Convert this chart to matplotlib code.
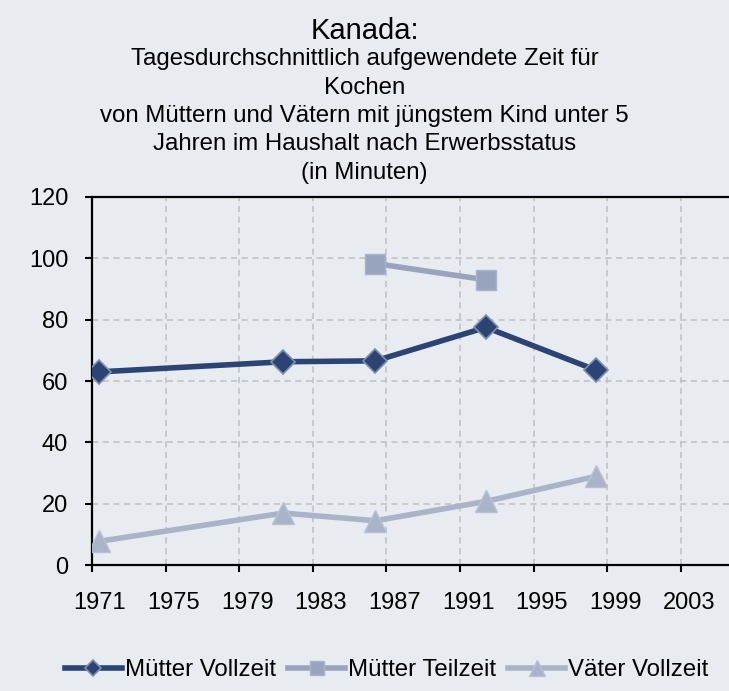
import matplotlib.pyplot as plt
import matplotlib.transforms as mtransforms
from matplotlib.ticker import MultipleLocator

plt.rcParams['font.family'] = ['Liberation Sans', 'DejaVu Sans']

# Daten (Minuten pro Tag)
jahre = [1971.4, 1981.4, 1986.4, 1992.4, 1998.4]
muetter_vollzeit = [63.0, 66.3, 66.6, 77.5, 63.5]
jahre_teilzeit = [1986.4, 1992.4]
muetter_teilzeit = [98.3, 93.0]
vaeter_vollzeit = [7.8, 17.0, 14.5, 20.8, 29.0]

xticks = [1971, 1975, 1979, 1983, 1987, 1991, 1995, 1999, 2003]

titel = "Kanada:"
untertitel = [
    "Tagesdurchschnittlich aufgewendete Zeit für",
    "Kochen",
    "von Müttern und Vätern mit jüngstem Kind unter 5",
    "Jahren im Haushalt nach Erwerbsstatus",
    "(in Minuten)",
]

bg = "#E8EBF0"
fig = plt.figure(figsize=(7.29, 6.91), dpi=100, facecolor=bg)
ax = fig.add_axes([0.126, 0.182, 0.874, 0.533], facecolor=bg)

ax.plot(jahre, muetter_vollzeit, color="#2B4474", lw=4, marker="D", ms=12,
        mfc="#2B4474", mec="#7F8FB0", mew=1.2, label="Mütter Vollzeit", zorder=3)
ax.plot(jahre_teilzeit, muetter_teilzeit, color="#98A4BE", lw=4, marker="s", ms=15,
        mfc="#98A4BE", mec="#A9B4CA", mew=1, label="Mütter Teilzeit", zorder=3)
ax.plot(jahre, vaeter_vollzeit, color="#A9B4C8", lw=4, marker="^", ms=16,
        mfc="#A9B4C8", mec="#B8C1D3", mew=1, label="Väter Vollzeit", zorder=3)

ax.set_xlim(1971, 2005.6)
ax.set_ylim(0, 120)
ax.set_xticks(xticks)
ax.yaxis.set_major_locator(MultipleLocator(20))
ax.grid(True, color="#BFBFBF", ls=(0, (4, 3)), lw=1.1)
ax.set_axisbelow(True)
ax.tick_params(axis="both", labelsize=17, length=5, width=1.5, direction="out")
ax.tick_params(axis="x", pad=14)
ax.tick_params(axis="y", pad=12)
for s in ["left", "bottom", "top"]:
    ax.spines[s].set_linewidth(1.6)
ax.spines["right"].set_visible(False)

# Jahreszahlen stehen im Original etwas rechts vom Strich
versatz = mtransforms.ScaledTranslation(8 / 100, 0, fig.dpi_scale_trans)
for lbl in ax.get_xticklabels():
    lbl.set_transform(lbl.get_transform() + versatz)

fig.text(0.5, 1 - 31 / 691, titel, ha="center", va="center", fontsize=21)
for i, zeile in enumerate(untertitel):
    y = 59 + i * 28.5
    fig.text(0.5, 1 - y / 691, zeile, ha="center", va="center", fontsize=17.3)

fig.legend(loc="center", bbox_to_anchor=(0.53, 1 - 670 / 691), ncol=3, frameon=False,
           fontsize=17.3, handlelength=2.4, handletextpad=0.1, columnspacing=0.5,
           markerscale=0.7)

fig.savefig("out.png", dpi=100, facecolor=bg)
